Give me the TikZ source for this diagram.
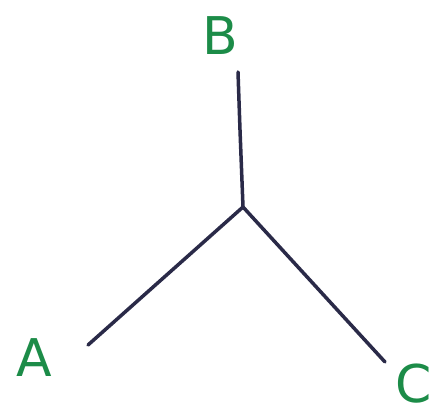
\documentclass[tikz,border=0pt]{standalone}
\usepackage{fontspec}
\setmainfont{DejaVu Sans}
\begin{document}
\begin{tikzpicture}[x=1pt,y=-1pt,
  edge/.style={draw=inkblue,line width=3.5pt,line cap=round,line join=round},
  lbl/.style={text=inkgreen,font=\fontsize{52}{52}\selectfont,inner sep=0pt}]
\definecolor{inkblue}{RGB}{42,42,72}
\definecolor{inkgreen}{RGB}{28,140,72}
\useasboundingbox[fill=white] (0,0) rectangle (442,414);
\coordinate (O) at (243,207);
\coordinate (tb) at (238,72);
\coordinate (ta) at (88,345);
\coordinate (tc) at (385,362);
\path[edge] (tb) -- (240,130) -- (O);
\path[edge] (O) -- (ta);
\path[edge] (O) -- (tc);
\node[lbl] (B) at (220,36) {B};
\node[lbl] (A) at (34,358) {A};
\node[lbl] (C) at (414,384) {C};
\end{tikzpicture}
\end{document}
